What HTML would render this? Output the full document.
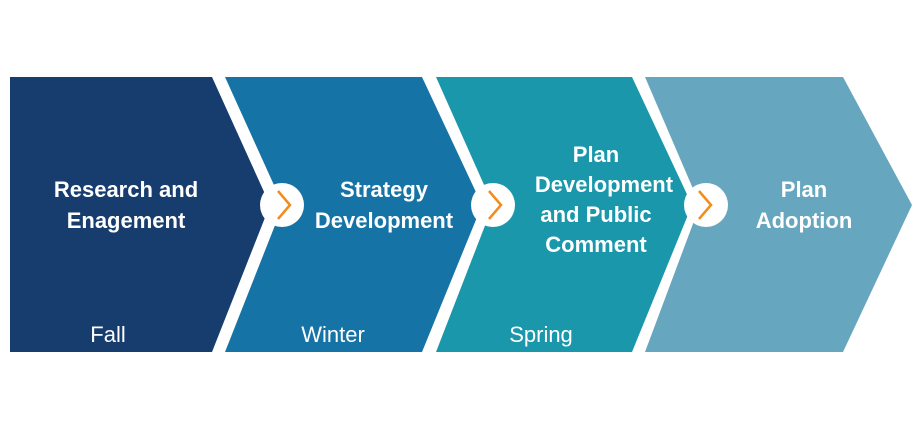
<!DOCTYPE html>
<html><head><style>
body{margin:0;background:#fff;}
svg{display:block}
text{font-family:"Liberation Sans",sans-serif;fill:#fff;text-anchor:middle}
.b{font-weight:bold;font-size:22px}
.s{font-size:22px}
</style></head><body>
<svg width="915" height="430" viewBox="0 0 915 430">
<polygon points="10,77 212,77 270,205 212,352 10,352" fill="#163d6e"/>
<polygon points="225,77 422,77 482,205 422,352 225,352 283,205" fill="#1673a6"/>
<polygon points="436,77 632,77 692,205 632,352 436,352 493,205" fill="#1a97ab"/>
<polygon points="645,77 843,77 912,205 843,352 645,352 700,205" fill="#67a6bf"/>
<g fill="#fff">
<circle cx="282" cy="205" r="22"/><circle cx="493" cy="205" r="22"/><circle cx="706" cy="205" r="22"/>
</g>
<g fill="none" stroke="#f28c1c" stroke-width="2.5">
<polyline points="278,191 290,205 278,219"/>
<polyline points="489,191 501,205 489,219"/>
<polyline points="699,191 711,205 699,219"/>
</g>
<text class="b" x="126" y="197">Research and</text>
<text class="b" x="126" y="228">Enagement</text>
<text class="b" x="384" y="197">Strategy</text>
<text class="b" x="384" y="228">Development</text>
<text class="b" x="596" y="162">Plan</text>
<text class="b" x="604" y="192">Development</text>
<text class="b" x="596" y="222">and Public</text>
<text class="b" x="596" y="252">Comment</text>
<text class="b" x="804" y="197">Plan</text>
<text class="b" x="804" y="228">Adoption</text>
<text class="s" x="108" y="342">Fall</text>
<text class="s" x="333" y="342">Winter</text>
<text class="s" x="541" y="342">Spring</text>
</svg>
</body></html>
